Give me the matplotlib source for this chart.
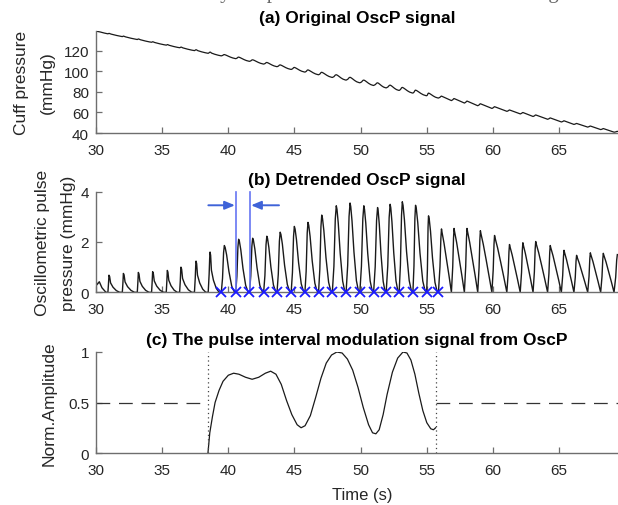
import numpy as np
import matplotlib
matplotlib.use("Agg")
import matplotlib.pyplot as plt

plt.rcParams['font.family'] = ['Liberation Sans', 'DejaVu Sans']

# ---------------- data ----------------
XTICKS = [30, 35, 40, 45, 50, 55, 60, 65]
XLIM = (30, 69.45)

# initial segment of detrended signal (before first full pulse)
START_T = [30.0, 30.07, 30.25, 30.45, 30.75]
START_V = [0.46, 0.30, 0.42, 0.18, 0.0]

# pulse onsets, peak times and peak amplitudes (mmHg) of detrended OscP
ONSET_T = [30.90, 31.99, 33.12, 34.20, 35.31, 36.32, 37.44, 38.48,
           39.47, 40.56, 41.60, 42.67, 43.68, 44.75, 45.79, 46.82, 47.86,
           48.90, 49.94, 50.98, 51.93, 52.91, 53.95, 54.99, 55.88,
           56.86, 57.84, 58.85, 59.92, 61.05, 62.06, 63.03, 64.13, 65.17,
           66.12, 67.16, 68.14, 69.15]
PEAK_T = [30.98, 32.07, 33.20, 34.28, 35.39, 36.42, 37.56, 38.62,
          39.70, 40.78, 41.84, 42.91, 43.92, 44.99, 46.02, 47.06, 48.16,
          49.20, 50.24, 51.28, 52.23, 53.15, 54.15, 55.13, 56.11,
          57.06, 58.04, 59.05, 60.12, 61.25, 62.26, 63.23, 64.33, 65.37,
          66.32, 67.36, 68.34, 69.40]
PEAK_V = [0.68, 0.75, 0.79, 0.82, 0.87, 1.00, 1.24, 1.60,
          1.86, 2.11, 2.15, 2.23, 2.39, 2.62, 2.78, 3.07, 3.44,
          3.55, 3.44, 3.37, 3.50, 3.60, 3.46, 3.04, 2.52,
          2.54, 2.54, 2.45, 2.26, 1.90, 1.97, 2.02, 1.86, 1.67,
          1.47, 1.57, 1.55, 1.50]
# pulse shape class: 0 early (sharp with tail), 1 middle, 2 sawtooth
PULSE_KIND = [0] * 8 + [1] * 16 + [2] * 14

# detected pulse onsets (blue x marks)
MARK_T = [39.47, 40.56, 41.60, 42.67, 43.68, 44.75, 45.79, 46.82, 47.86,
          48.90, 49.94, 50.98, 51.93, 52.91, 53.95, 54.99, 55.88]
INTERVAL_T = [40.56, 41.64]          # highlighted interval lines
ARROW_Y = 3.46
ARROW_LEFT = (38.49, 40.50)
ARROW_RIGHT = (43.83, 41.72)

# cuff pressure linear deflation trend (mmHg)
TREND_T = [30.0, 69.45]
TREND_P = [139.0, 40.0]

# (c) pulse interval modulation signal
MOD_T = [38.46, 38.6, 38.8, 39.0, 39.3, 39.6, 40.0, 40.4, 40.8, 41.3, 41.8,
         42.3, 42.8, 43.2, 43.6, 44.0, 44.4, 44.8, 45.2, 45.5, 45.8, 46.2,
         46.6, 47.0, 47.4, 47.8, 48.2, 48.6, 49.0, 49.4, 49.8, 50.2, 50.6,
         50.9, 51.15, 51.4, 51.7, 52.0, 52.4, 52.8, 53.2, 53.5, 53.8, 54.1,
         54.4, 54.7, 55.0, 55.3, 55.5, 55.67]
MOD_V = [0.0, 0.20, 0.36, 0.50, 0.62, 0.71, 0.77, 0.79, 0.78, 0.75, 0.73,
         0.75, 0.79, 0.81, 0.78, 0.68, 0.52, 0.38, 0.28, 0.25, 0.27, 0.37,
         0.55, 0.74, 0.89, 0.97, 1.00, 0.99, 0.93, 0.82, 0.65, 0.45, 0.28,
         0.20, 0.19, 0.23, 0.38, 0.58, 0.80, 0.94, 1.00, 0.99, 0.92, 0.78,
         0.59, 0.42, 0.30, 0.24, 0.23, 0.25]
MOD_START, MOD_END = 38.46, 55.67
MOD_REF = 0.5

# ---------------- build detrended waveform from read key points ----------------
# rise shape (fraction of onset->peak time, fraction of peak)
RISE = {0: ([0.5, 0.8], [0.45, 0.85]),
        1: ([0.4, 0.75], [0.30, 0.85]),
        2: ([0.5, 0.8], [0.40, 0.85])}
# decay shape (fraction of peak->next onset time, fraction of peak)
DECAY = {
    0: ([0.05, 0.12, 0.30, 0.55, 0.80, 1.0], [0.92, 0.55, 0.30, 0.10, 0.0, 0.0]),
    1: ([0.07, 0.20, 0.40, 0.65, 0.85, 1.0], [0.96, 0.80, 0.45, 0.13, 0.02, 0.0]),
    2: ([0.05, 0.25, 0.50, 0.75, 1.0], [0.95, 0.78, 0.53, 0.27, 0.0]),
}
wt = list(START_T)
wv = list(START_V)
for i in range(len(PEAK_T)):
    k = PULSE_KIND[i]
    rise = PEAK_T[i] - ONSET_T[i]
    wt.append(ONSET_T[i]); wv.append(0.0)
    for f, v in zip(*RISE[k]):
        wt.append(ONSET_T[i] + f * rise); wv.append(PEAK_V[i] * v)
    wt.append(PEAK_T[i]); wv.append(PEAK_V[i])
    if i + 1 >= len(ONSET_T):
        break
    span = ONSET_T[i + 1] - PEAK_T[i]
    for f, v in zip(*DECAY[k]):
        wt.append(PEAK_T[i] + f * span * 0.999)
        wv.append(PEAK_V[i] * v)
wt = np.array(wt)
wv = np.array(wv)
# dense sampling for cuff pressure = trend + oscillation
tt = np.linspace(30, XLIM[1], 3000)
osc = np.interp(tt, wt, wv)
cuff = np.interp(tt, TREND_T, TREND_P) + osc

# ---------------- figure ----------------
W, H = 618, 506
fig = plt.figure(figsize=(W / 100, H / 100), dpi=100)

AX_COLOR = '#6e6e6e'
TXT_COLOR = '#262626'
LINE_COLOR = '#1a1a1a'

def make_ax(top_px, bottom_px):
    left = 96 / W
    ax = fig.add_axes([left, 1 - bottom_px / H, 1 - left, (bottom_px - top_px) / H])
    for s in ['top', 'right']:
        ax.spines[s].set_visible(False)
    for s in ['left', 'bottom']:
        ax.spines[s].set_color(AX_COLOR)
        ax.spines[s].set_linewidth(1.0)
    ax.tick_params(direction='in', length=4, width=0.9, color=AX_COLOR,
                   labelsize=11, labelcolor=TXT_COLOR)
    ax.tick_params(axis='x', pad=7)
    ax.tick_params(axis='y', pad=5)
    ax.set_xlim(*XLIM)
    ax.set_xticks(XTICKS)
    ax.set_xticklabels([str(x) for x in XTICKS])
    ax.set_facecolor('none')
    return ax

# (a)
axa = make_ax(32, 134)
axa.plot(tt, cuff, color=LINE_COLOR, lw=0.9)
axa.set_ylim(40, 139.5)
axa.set_yticks([40, 60, 80, 100, 120])

# (b)
axb = make_ax(192.7, 293.3)
axb.plot(wt, wv, color=LINE_COLOR, lw=1.0)
axb.set_ylim(0, 4)
axb.set_yticks([0, 2, 4])
for x in INTERVAL_T:
    axb.plot([x, x], [0, 4], color='#6675f2', lw=1.2, clip_on=False)
axb.plot(MARK_T, np.zeros(len(MARK_T)), linestyle='none', marker='x',
         color='#1a1aff', ms=6.5, mew=1.3, clip_on=False, zorder=5)
arrow_kw = dict(arrowstyle='-|>,head_length=0.6,head_width=0.25',
                color='#3f63d8', lw=1.4, shrinkA=0, shrinkB=0)
axb.annotate('', xy=(ARROW_LEFT[1], ARROW_Y), xytext=(ARROW_LEFT[0], ARROW_Y),
             arrowprops=arrow_kw)
axb.annotate('', xy=(ARROW_RIGHT[1], ARROW_Y), xytext=(ARROW_RIGHT[0], ARROW_Y),
             arrowprops=arrow_kw)

# (c)
axc = make_ax(353, 454)
axc.plot(MOD_T, MOD_V, color=LINE_COLOR, lw=0.9)
axc.plot([XLIM[0], MOD_START], [MOD_REF, MOD_REF], color='#333333', lw=0.9,
         dashes=(11, 7))
axc.plot([MOD_END, XLIM[1]], [MOD_REF, MOD_REF], color='#333333', lw=0.9,
         dashes=(11, 7))
for x in (MOD_START, MOD_END):
    axc.plot([x, x], [0, 1], color='#444444', lw=0.9, linestyle=(0, (1, 2.5)))
axc.set_ylim(0, 1)
axc.set_yticks([0, 0.5, 1])
axc.set_yticklabels(['0', '0.5', '1'])

# titles
cx = (96 + W) / 2 / W
tkw = dict(ha='center', va='center', fontsize=12.5, fontweight='bold', color='black')
fig.text(cx, 1 - 18 / H, '(a) Original OscP signal', **tkw)
fig.text(cx, 1 - 181 / H, '(b) Detrended OscP signal', **tkw)
fig.text(cx, 1 - 340 / H, '(c) The pulse interval modulation signal from OscP', **tkw)

# y labels
lkw = dict(ha='center', va='center', rotation=90, fontsize=12.5, color=TXT_COLOR)
fig.text(22 / W, 1 - 83 / H, 'Cuff pressure', **lkw)
fig.text(47 / W, 1 - 83 / H, '(mmHg)', **lkw)
fig.text(43 / W, 1 - 243 / H, 'Oscillometric pulse', **lkw)
fig.text(68 / W, 1 - 243 / H, 'pressure (mmHg)', **lkw)
fig.text(49 / W, 1 - 403.5 / H, 'Norm.Amplitude', **lkw)

# x label
fig.text(362 / W, 1 - 496 / H, 'Time (s)', ha='center', va='center',
         fontsize=12, color=TXT_COLOR)

# bottom edge of the surrounding caption line, cut off at the very top as in the source
fig.text(0.52, 1 + 1.5 / H, 'interval extracted by the pulse modulation as seen in the signal',
         ha='center', va='baseline', fontsize=15, color='#666666',
         family=['Liberation Serif', 'DejaVu Serif'])

fig.savefig('out.png', dpi=100)
